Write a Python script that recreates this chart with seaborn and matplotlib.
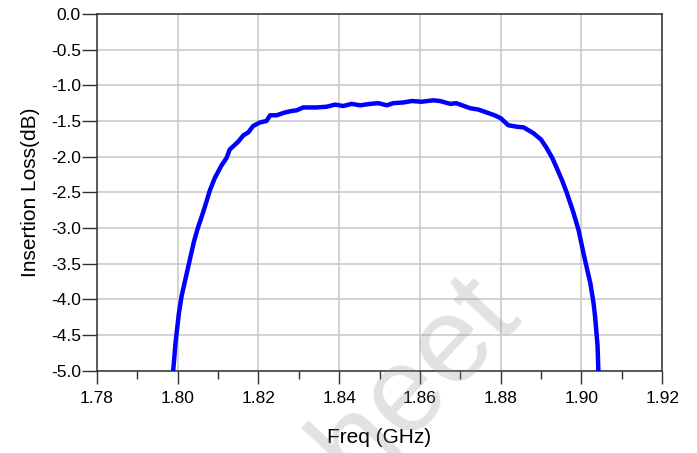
import matplotlib
matplotlib.use("Agg")
import matplotlib.pyplot as plt
import numpy as np
import pandas as pd
import seaborn as sns
from matplotlib.ticker import MultipleLocator, FormatStrFormatter

# insertion loss
freq_ghz = [
    1.7989, 1.7995, 1.8003, 1.8010, 1.8020, 1.8030, 1.8040, 1.8050, 1.8062, 1.8072,
    1.8080, 1.8092, 1.8109, 1.8121, 1.8129, 1.8150, 1.8163, 1.8175, 1.8187, 1.8204,
    1.8220, 1.8229, 1.8245, 1.8266, 1.8282, 1.8295, 1.8311, 1.8328, 1.8344, 1.8369,
    1.8390, 1.8410, 1.8431, 1.8452, 1.8477, 1.8497, 1.8518, 1.8534, 1.8559, 1.8580,
    1.8604, 1.8633, 1.8650, 1.8675, 1.8690, 1.8724, 1.8745, 1.8765, 1.8785, 1.8800,
    1.8819, 1.8840, 1.8857, 1.8881, 1.8900, 1.8914, 1.8928, 1.8939, 1.8952, 1.8964,
    1.8980, 1.8993, 1.9005, 1.9015, 1.9022, 1.9030, 1.9034, 1.9040, 1.9042,
]
loss_db = [
    -5.00, -4.60, -4.20, -3.95, -3.70, -3.45, -3.20, -3.00, -2.80, -2.62,
    -2.47, -2.30, -2.12, -2.02, -1.90, -1.79, -1.70, -1.66, -1.57, -1.52,
    -1.50, -1.42, -1.42, -1.38, -1.36, -1.35, -1.31, -1.31, -1.31, -1.30,
    -1.27, -1.29, -1.26, -1.28, -1.26, -1.25, -1.28, -1.25, -1.24, -1.22,
    -1.23, -1.21, -1.22, -1.26, -1.25, -1.32, -1.34, -1.38, -1.42, -1.46,
    -1.56, -1.58, -1.59, -1.67, -1.76, -1.88, -2.02, -2.16, -2.33, -2.51,
    -2.78, -3.03, -3.35, -3.60, -3.77, -4.05, -4.25, -4.65, -5.00,
]

x_ticks = [1.78, 1.80, 1.82, 1.84, 1.86, 1.88, 1.90, 1.92]
y_ticks = [0.0, -0.5, -1.0, -1.5, -2.0, -2.5, -3.0, -3.5, -4.0, -4.5, -5.0]

sns.set_theme(style="ticks")
plt.rcParams["font.family"] = ["Liberation Sans", "DejaVu Sans"]

df = pd.DataFrame({"freq": freq_ghz, "il": loss_db})

fig = plt.figure(figsize=(6.97, 4.53), dpi=100)
ax = fig.add_axes([0.139, 0.182, 0.811, 0.787])

sns.lineplot(data=df, x="freq", y="il", color="#0000ff", linewidth=3.2,
             sort=False, ax=ax, zorder=3)

ax.set_xlim(x_ticks[0], x_ticks[-1])
ax.set_ylim(y_ticks[-1], y_ticks[0])
ax.set_xticks(x_ticks)
ax.set_yticks(y_ticks)
ax.xaxis.set_minor_locator(MultipleLocator(0.01))
ax.xaxis.set_major_formatter(FormatStrFormatter("%.2f"))
ax.yaxis.set_major_formatter(FormatStrFormatter("%.1f"))

ax.grid(True, which="major", color="#c8c8c8", linewidth=1.1)
ax.set_axisbelow(True)

for s in ax.spines.values():
    s.set_color("#303030")
    s.set_linewidth(1.1)

ax.tick_params(axis="y", which="major", direction="out", length=10.5, width=1.0,
               color="#303030", labelsize=12.5, pad=1, labelcolor="black")
ax.tick_params(axis="x", which="major", direction="out", length=9.5, width=1.0,
               color="#303030", labelsize=12.5, pad=5, labelcolor="black")
ax.tick_params(axis="x", which="minor", direction="out", length=5.5, width=1.0,
               color="#303030")

ax.set_xlabel("Freq (GHz)", fontsize=15, labelpad=16, color="black")
ax.set_ylabel("Insertion Loss(dB)", fontsize=15, labelpad=8, color="black")

# watermark, partly off the bottom edge like in the source
fig.text(0.57, 0.105, "sheet", fontsize=88, color="0.55", alpha=0.25,
         rotation=47, ha="center", va="center", zorder=10)

fig.savefig("out.png", dpi=100)
